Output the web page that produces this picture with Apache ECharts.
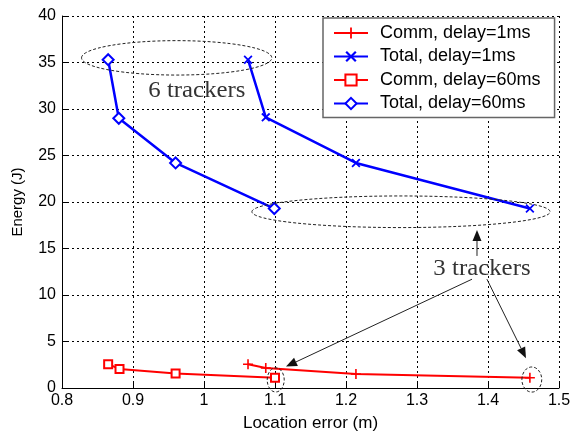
<!DOCTYPE html>
<html><head><meta charset="utf-8">
<script src="https://cdn.jsdelivr.net/npm/echarts@6/dist/echarts.min.js"></script>
<style>html,body{margin:0;padding:0;background:#fff}#c{width:579px;height:432px}</style>
</head><body><div id="c"></div>
<script>
const xTicks = [0.8, 0.9, 1, 1.1, 1.2, 1.3, 1.4, 1.5];
const yTicks = [0, 5, 10, 15, 20, 25, 30, 35, 40];
const seriesNames = ['Comm, delay=1ms', 'Total, delay=1ms', 'Comm, delay=60ms', 'Total, delay=60ms'];
const commDelay1 = [[1.062, 2.55], [1.087, 2.15], [1.214, 1.5], [1.459, 1.1]];
const totalDelay1 = [[1.062, 35.3], [1.087, 29.1], [1.214, 24.2], [1.459, 19.3]];
const commDelay60 = [[0.865, 2.55], [0.881, 2.05], [0.960, 1.55], [1.100, 1.1]];
const totalDelay60 = [[0.865, 35.3], [0.880, 29.0], [0.960, 24.2], [1.099, 19.3]];

const plusPath = 'path://M4.2,0H5.8V4.2H10V5.8H5.8V10H4.2V5.8H0V4.2H4.2Z';
const crossPath = 'path://M1.4,0L5,3.6L8.6,0L10,1.4L6.4,5L10,8.6L8.6,10L5,6.4L1.4,10L0,8.6L3.6,5L0,1.4Z';

const chart = echarts.init(document.getElementById('c'), null, {renderer: 'canvas'});
const font = 'Liberation Sans, Arial, sans-serif';
const gridLine = {show: true, lineStyle: {color: '#000', width: 1, type: [2, 3]}};
chart.setOption({
  animation: false,
  backgroundColor: '#fff',
  grid: {left: 62, right: 20, top: 16, bottom: 44, containLabel: false, outerBoundsMode: 'none'},
  legend: {
    orient: 'vertical', left: 323, top: 18,
    padding: [6, 14, 5, 10], itemGap: 5.5, itemWidth: 34, itemHeight: 14,
    backgroundColor: '#fff', borderColor: '#666', borderWidth: 1.5,
    textStyle: {fontFamily: font, fontSize: 18, lineHeight: 14, color: '#000', padding: [0, 0, 0, 7]},
    data: seriesNames
  },
  xAxis: {
    type: 'value', min: xTicks[0], max: xTicks[xTicks.length - 1], interval: 0.1,
    name: 'Location error (m)', nameLocation: 'middle', nameGap: 27,
    nameTextStyle: {fontFamily: font, fontSize: 17, color: '#000'},
    axisLine: {show: true, onZero: false, lineStyle: {color: '#000', width: 1}},
    axisTick: {show: true, inside: true, length: 5, lineStyle: {color: '#000'}},
    axisLabel: {fontFamily: font, fontSize: 16, color: '#000', margin: 5, showMaxLabel: true, showMinLabel: true},
    splitLine: gridLine
  },
  yAxis: {
    type: 'value', min: yTicks[0], max: yTicks[yTicks.length - 1], interval: 5,
    name: 'Energy (J)', nameLocation: 'middle', nameGap: 37, nameRotate: 90,
    nameTextStyle: {fontFamily: font, fontSize: 15, color: '#000'},
    axisLine: {show: true, onZero: false, lineStyle: {color: '#000', width: 1}},
    axisTick: {show: true, inside: true, length: 5, lineStyle: {color: '#000'}},
    axisLabel: {fontFamily: font, fontSize: 16, color: '#000', margin: 6},
    splitLine: gridLine
  },
  series: [
    {name: seriesNames[0], type: 'line', data: commDelay1, symbol: plusPath, symbolSize: 10,
     itemStyle: {color: '#ff0000'}, lineStyle: {color: '#ff0000', width: 2}, z: 3},
    {name: seriesNames[1], type: 'line', data: totalDelay1, symbol: crossPath, symbolSize: 9,
     itemStyle: {color: '#0000ff'}, lineStyle: {color: '#0000ff', width: 2.5}, z: 3},
    {name: seriesNames[2], type: 'line', data: commDelay60, symbol: 'emptyRect', symbolSize: 8,
     itemStyle: {color: '#ff0000', borderWidth: 2}, lineStyle: {color: '#ff0000', width: 2}, z: 3},
    {name: seriesNames[3], type: 'line', data: totalDelay60, symbol: 'emptyDiamond', symbolSize: 11,
     itemStyle: {color: '#0000ff', borderWidth: 2}, lineStyle: {color: '#0000ff', width: 2.5}, z: 3}
  ]
});

// Annotations (data coordinates converted to pixels)
function px(p) { return chart.convertToPixel({gridIndex: 0}, p); }
function ellipse(cx, cy, hx, hy) {
  const c = px([cx, cy]), e = px([cx + hx, cy + hy]);
  return {type: 'ellipse', shape: {cx: c[0], cy: c[1], rx: Math.abs(e[0] - c[0]), ry: Math.abs(e[1] - c[1])},
    style: {fill: null, stroke: '#222', lineWidth: 1, lineDash: [3, 2]}, z: 10};
}
function arrow(from, to) {
  const a = px(from), b = px(to);
  const ang = Math.atan2(b[1] - a[1], b[0] - a[0]);
  const L = 11, W = 4.5;
  const bx = b[0] - L * Math.cos(ang), by = b[1] - L * Math.sin(ang);
  return [
    {type: 'line', shape: {x1: a[0], y1: a[1], x2: bx, y2: by}, style: {stroke: '#222', lineWidth: 1}, z: 10},
    {type: 'polygon', shape: {points: [[b[0], b[1]], [bx + W * Math.sin(ang), by - W * Math.cos(ang)], [bx - W * Math.sin(ang), by + W * Math.cos(ang)]]},
     style: {fill: '#111'}, z: 10}
  ];
}
function text(s, p) {
  const c = px(p);
  return {type: 'text', x: c[0], y: c[1], scaleX: 1.08,
    style: {text: s, fill: '#333', font: '23px "Liberation Serif", "DejaVu Serif", serif', align: 'center', verticalAlign: 'middle'}, z: 10};
}
const g = [
  ellipse(0.9615, 35.5, 0.134, 1.85),
  ellipse(1.2775, 18.95, 0.21, 1.7),
  ellipse(1.101, 0.87, 0.012, 1.3),
  ellipse(1.4617, 0.91, 0.014, 1.35),
  text('6 trackers', [0.99, 31.95]),
  text('3 trackers', [1.3915, 12.85]),
  ...arrow([1.3845, 14.2], [1.3845, 17.0]),
  ...arrow([1.3775, 11.7], [1.1155, 2.3]),
  ...arrow([1.3985, 11.7], [1.4535, 3.2])
];
chart.setOption({graphic: g});
</script>
</body></html>
